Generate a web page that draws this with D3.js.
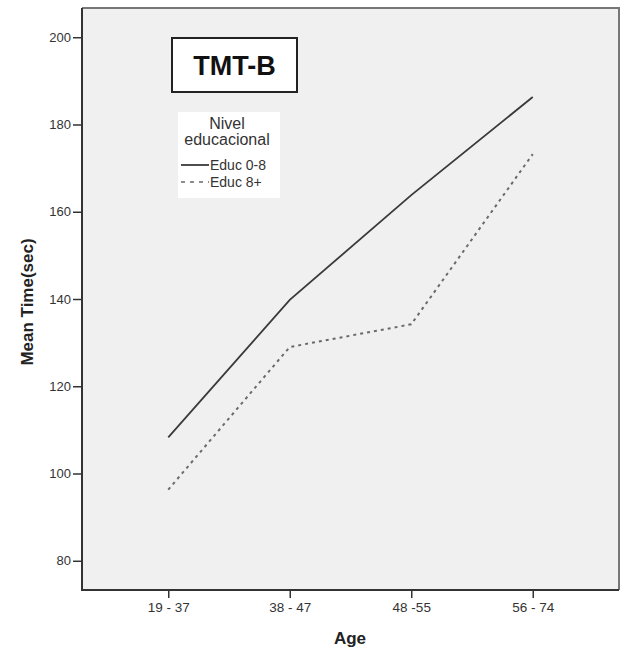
<!DOCTYPE html>
<html><head><meta charset="utf-8">
<script src="https://cdnjs.cloudflare.com/ajax/libs/d3/7.8.5/d3.min.js"></script>
<style>body{margin:0;background:#fff;}svg{display:block;font-family:"Liberation Sans",Arial,sans-serif;}</style>
</head><body><svg id="c" width="621" height="654"></svg>
<script>
const categories = ["19 - 37", "38 - 47", "48 -55", "56 - 74"];
const seriesNames = ["Educ 0-8", "Educ 8+"];
const educ08 = [108.3, 139.8, 163.8, 186.3];
const educ8p = [96.3, 129.0, 134.2, 173.2];
const yTicks = [80, 100, 120, 140, 160, 180, 200];
const title = "TMT-B";
const legendTitle = ["Nivel", "educacional"];
const xTitle = "Age";
const yTitle = "Mean Time(sec)";

const svg = d3.select("#c");
const L = 82, R = 619, T = 8, B = 590;
const x = d3.scalePoint().domain(categories).range([L, R]).padding(0.71);
const y = d3.scaleLinear().domain([73.3, 206.7]).range([B, T]);

svg.append("rect").attr("x", L).attr("y", T).attr("width", R - L).attr("height", B - T)
  .attr("fill", "#f0f0f0").attr("stroke", "none");

// axes
const ya = svg.append("g").attr("transform", `translate(${L},0)`)
  .call(d3.axisLeft(y).tickValues(yTicks).tickSize(9).tickPadding(2).tickFormat(d3.format("d")));
const xa = svg.append("g").attr("transform", `translate(0,${B})`)
  .call(d3.axisBottom(x).tickSize(8).tickPadding(4));
[ya, xa].forEach(g => {
  g.select(".domain").remove();
  g.selectAll(".tick line").attr("stroke", "#333").attr("stroke-width", 1.5);
  g.selectAll(".tick text").attr("fill", "#333")
    .attr("font-family", "'Liberation Sans',Arial,sans-serif");
});
ya.selectAll(".tick text").attr("font-size", 13);
xa.selectAll(".tick text").attr("font-size", 13.5);

// frame
svg.append("path").attr("d", `M${L},${T}H${R}V${B}`).attr("fill", "none")
  .attr("stroke", "#777").attr("stroke-width", 2);
svg.append("path").attr("d", `M${L},${T}V${B}H${R}`).attr("fill", "none")
  .attr("stroke", "#333").attr("stroke-width", 2);

// lines
const line = d3.line().x((d, i) => x(categories[i])).y(d => y(d));
svg.append("path").datum(educ08).attr("d", line).attr("fill", "none")
  .attr("stroke", "#3a3a3a").attr("stroke-width", 1.8);
svg.append("path").datum(educ8p).attr("d", line).attr("fill", "none")
  .attr("stroke", "#6a6a6a").attr("stroke-width", 2).attr("stroke-dasharray", "3,4");

// title box
svg.append("rect").attr("x", 172).attr("y", 38).attr("width", 125).attr("height", 54)
  .attr("fill", "#fff").attr("stroke", "#222").attr("stroke-width", 2);
svg.append("text").attr("x", 234.5).attr("y", 75).attr("text-anchor", "middle")
  .attr("font-size", 27).attr("font-weight", "bold").attr("fill", "#111").text(title);

// legend
svg.append("rect").attr("x", 178).attr("y", 112).attr("width", 102).attr("height", 86)
  .attr("fill", "#fff");
svg.append("text").attr("x", 227).attr("y", 129).attr("text-anchor", "middle")
  .attr("font-size", 16).attr("fill", "#333").text(legendTitle[0]);
svg.append("text").attr("x", 227).attr("y", 145).attr("text-anchor", "middle")
  .attr("font-size", 16).attr("fill", "#333").text(legendTitle[1]);
const lg = [{n: seriesNames[0], dash: null, c: "#3a3a3a", w: 1.8, yy: 165},
            {n: seriesNames[1], dash: "4,5", c: "#6a6a6a", w: 1.6, yy: 182}];
lg.forEach(d => {
  svg.append("line").attr("x1", 181).attr("x2", 209).attr("y1", d.yy).attr("y2", d.yy)
    .attr("stroke", d.c).attr("stroke-width", d.w).attr("stroke-dasharray", d.dash);
  svg.append("text").attr("x", 210).attr("y", d.yy + 5).attr("font-size", 14)
    .attr("fill", "#333").text(d.n);
});

// axis titles
svg.append("text").attr("x", 350).attr("y", 644)
  .attr("text-anchor", "middle").attr("font-size", 17).attr("font-weight", "bold")
  .attr("fill", "#222").text(xTitle);
svg.append("text").attr("transform", "translate(33,302) rotate(-90)")
  .attr("text-anchor", "middle").attr("font-size", 17).attr("font-weight", "bold")
  .attr("fill", "#222").text(yTitle);
</script></body></html>
